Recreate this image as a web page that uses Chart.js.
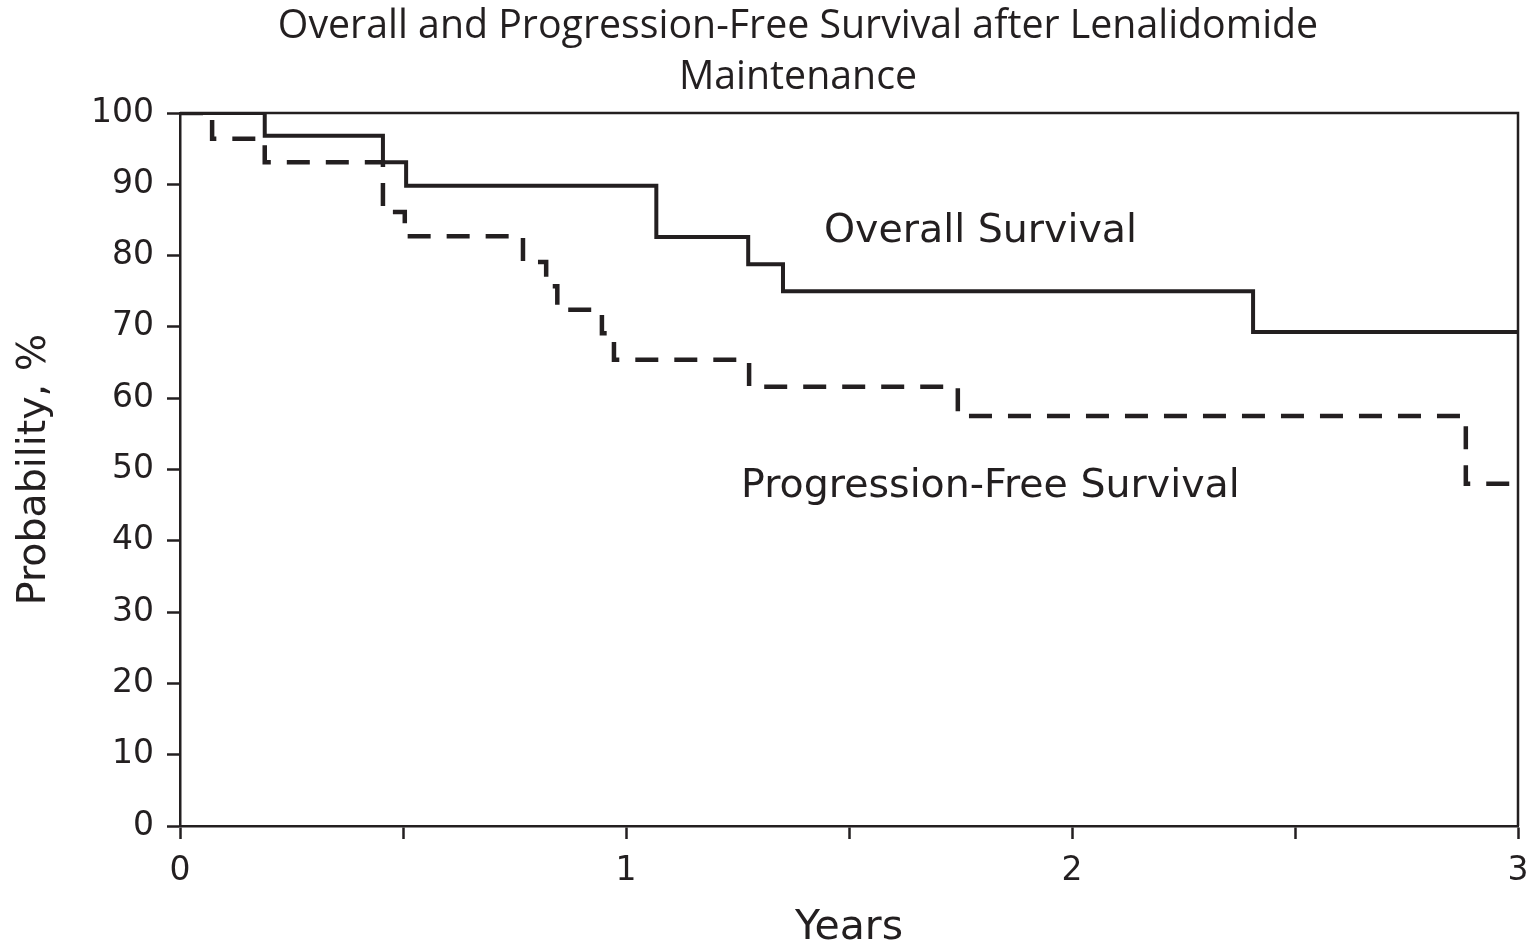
<!DOCTYPE html>
<html>
<head>
<meta charset="utf-8">
<script src="https://cdn.jsdelivr.net/npm/chart.js@4.4.1/dist/chart.umd.min.js"></script>
<style>
  html, body { margin: 0; padding: 0; background: #ffffff; }
  #wrap { width: 1534px; height: 940px; }
</style>
</head>
<body>
<div id="wrap"><canvas id="km" width="1534" height="940"></canvas></div>
<script>
// Kaplan-Meier estimates: each point is the time (years) of a drop and the new survival level (%)
const osYears    = [0, 0.19, 0.455, 0.507, 1.068, 1.274, 1.352, 2.406, 3];
const osPercent  = [100, 96.8, 93.1, 89.8, 82.6, 78.8, 75.0, 69.3, 69.3];

const pfsYears   = [0, 0.072, 0.19, 0.455, 0.504, 0.769, 0.821, 0.846, 0.946, 0.973, 1.276, 1.744, 2.883, 3];
const pfsPercent = [100, 96.4, 93.1, 86.1, 82.7, 79.1, 75.7, 72.4, 69.1, 65.4, 61.6, 57.5, 48.0, 48.0];

const xTickStep = 0.5;   // tick marks every half year, labels on whole years
const yTickStep = 10;

const titleLines = ['Overall and Progression-Free Survival after Lenalidomide', 'Maintenance'];
const xAxisTitle = 'Years';
const yAxisTitle = 'Probability, %';
const curveLabels = ['Overall Survival', 'Progression-Free Survival'];

const INK = '#231f20';

function toPoints(xs, ys) {
  return xs.map((x, i) => ({ x: x, y: ys[i] }));
}

// Closes the plot box with top and right edges
const frame = {
  id: 'frame',
  beforeDatasetsDraw(chart) {
    const { ctx, chartArea: a } = chart;
    ctx.save();
    ctx.strokeStyle = INK;
    ctx.lineWidth = 2.5;
    ctx.beginPath();
    ctx.moveTo(a.left, a.top);
    ctx.lineTo(a.right, a.top);
    ctx.lineTo(a.right, a.bottom);
    ctx.stroke();
    ctx.restore();
  }
};

// Two-line heading and the in-plot curve names
const captions = {
  id: 'captions',
  afterDraw(chart, args, opts) {
    const { ctx, scales } = chart;
    ctx.save();
    ctx.fillStyle = INK;
    ctx.textBaseline = 'alphabetic';
    ctx.textAlign = 'center';
    ctx.font = '39.3px "Open Sans"';
    titleLines.forEach((t, i) => ctx.fillText(t, opts.titleX, opts.titleBaseline + i * opts.titleLeading));
    ctx.textAlign = 'left';
    ctx.font = '39.5px "DejaVu Sans"';
    opts.labels.forEach((l, i) => {
      ctx.fillText(curveLabels[i], scales.x.getPixelForValue(l.x), scales.y.getPixelForValue(l.y));
    });
    ctx.restore();
  }
};

new Chart(document.getElementById('km'), {
  type: 'line',
  data: {
    datasets: [
      {
        label: curveLabels[0],
        data: toPoints(osYears, osPercent),
        stepped: true,
        borderColor: INK,
        borderWidth: 4,
        pointRadius: 0,
        fill: false
      },
      {
        label: curveLabels[1],
        data: toPoints(pfsYears, pfsPercent),
        stepped: true,
        borderColor: INK,
        borderWidth: 4.5,
        borderDash: [23, 16],
        borderCapStyle: 'butt',
        pointRadius: 0,
        fill: false
      }
    ]
  },
  options: {
    responsive: false,
    animation: false,
    devicePixelRatio: 1,
    layout: { padding: { top: 113, right: 16, bottom: 0, left: 0 } },
    plugins: {
      legend: { display: false },
      title: { display: false },
      tooltip: { enabled: false },
      captions: {
        titleX: 798,
        titleBaseline: 38,
        titleLeading: 51,
        labels: [ { x: 1.444, y: 81.9 }, { x: 1.258, y: 46.1 } ]
      }
    },
    scales: {
      x: {
        type: 'linear',
        min: 0,
        max: 3,
        afterFit(scale) {
          scale.height = 114;
          scale.paddingLeft = 0;
          scale.paddingRight = 0;
        },
        ticks: {
          stepSize: xTickStep,
          autoSkip: false,
          maxRotation: 0,
          padding: 13,
          color: INK,
          font: { family: 'DejaVu Sans', size: 33 },
          callback: (v) => (Number.isInteger(v) ? String(v) : '')
        },
        grid: {
          drawOnChartArea: false,
          drawTicks: true,
          tickLength: 13,
          tickWidth: 2.5,
          tickColor: INK
        },
        border: { display: true, color: INK, width: 2.5 },
        title: {
          display: true,
          text: xAxisTitle,
          color: INK,
          font: { family: 'DejaVu Sans', size: 41 },
          padding: { top: 0, bottom: -13 }
        }
      },
      y: {
        type: 'linear',
        min: 0,
        max: 100,
        afterFit(scale) { scale.width = 180; },
        ticks: {
          stepSize: yTickStep,
          padding: 13,
          color: INK,
          font: { family: 'DejaVu Sans', size: 33 }
        },
        grid: {
          drawOnChartArea: false,
          drawTicks: true,
          tickLength: 13,
          tickWidth: 2.5,
          tickColor: INK
        },
        border: { display: true, color: INK, width: 2.5 },
        title: {
          display: true,
          text: yAxisTitle,
          color: INK,
          font: { family: 'DejaVu Sans', size: 39.5 },
          padding: { top: 11, bottom: 0 }
        }
      }
    }
  },
  plugins: [frame, captions]
});
</script>
</body>
</html>
